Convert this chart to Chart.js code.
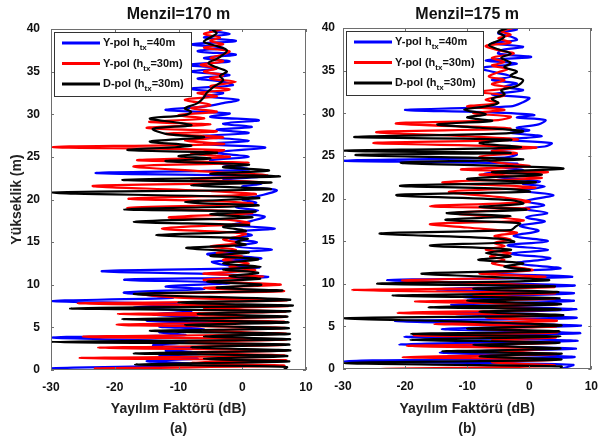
<!DOCTYPE html>
<html><head><meta charset="utf-8">
<script src="https://cdn.jsdelivr.net/npm/chart.js@4.4.0/dist/chart.umd.min.js"></script>
<style>
html,body{margin:0;padding:0;background:#fff;}
#wrap{position:relative;width:608px;height:443px;background:#fff;}
canvas{position:absolute;left:0;top:0;}
</style></head><body>
<div id="wrap"><canvas id="c1" width="608" height="443"></canvas><canvas id="c2" width="608" height="443"></canvas></div>
<script>
// ---------- data: [height (m), spreading factor (dB)] ----------
const seriesNames = ['Y-pol h_tx=40m', 'Y-pol (h_tx=30m)', 'D-pol (h_tx=30m)'];
const xTicks = [-30, -20, -10, 0, 10];
const yTicks = [0, 5, 10, 15, 20, 25, 30, 35, 40];
const panelTitles = ['Menzil=170 m', 'Menzil=175 m'];
const panelLabels = ['(a)', '(b)'];

const blue170 = [[0,-30],[0.2,-30],[0.45,-14],[0.75,-8],[1.05,-15],[1.35,-7],[1.65,-13],[1.95,-5.5],[2.25,-12],[2.55,-7],[2.9,-14],[3.3,-8],[3.8,-30],[4.1,-9],[4.45,-13],[4.8,-6],[5.1,-13],[5.45,-3],[5.8,-15],[6.15,-7],[6.5,-14],[6.9,-8],[7.3,-17],[7.7,-10],[8.1,-30],[8.45,-11],[8.8,-15],[9.1,-18.5],[9.5,-6],[9.8,-12],[10.2,-2],[10.6,-18.5],[10.9,3.9],[11.25,-4],[11.6,-22],[12.0,2.5],[12.35,-3],[12.7,-4.7],[13.1,3],[13.6,-5.5],[14.1,4.6],[14.5,-1],[15.0,2.3],[15.4,-2],[15.8,1.5],[16.2,-1],[16.6,5.1],[17.0,-1.5],[17.5,1.5],[18.0,3.5],[18.4,-1],[18.7,2.5],[19.1,-1],[19.6,2.2],[20.0,0],[20.4,2.5],[21.1,5.4],[21.5,0],[21.9,3],[22.3,-3],[22.7,2.9],[23.1,-23],[23.5,1],[24.0,-2],[24.6,-5],[25.0,1],[25.5,-4],[26.1,3.6],[26.5,-6],[26.9,1],[27.4,-6.7],[27.8,1],[28.2,-4],[28.5,1.5],[28.9,-3],[29.3,2.6],[29.7,-5],[30.1,-2],[30.5,-12],[30.9,-6],[31.3,-3],[31.7,-0.6],[32.1,-6],[32.5,-3],[33.0,-8],[33.4,-1.5],[33.8,-3],[34.2,-7],[34.6,-2],[35.0,-8],[35.4,-4],[35.8,-8.5],[36.2,-2],[36.6,-6],[37.0,-1],[37.4,-7],[37.8,-3],[38.2,-8],[38.6,-1],[39.0,-6],[39.4,-2],[39.8,-5],[40,-4]];

const red170 = [[0,-5],[0.2,-23],[0.5,6.5],[0.85,-8],[1.15,6.8],[1.4,-25.5],[1.7,6.5],[2.0,-7],[2.3,6.8],[2.6,-22.6],[2.95,6.6],[3.25,-9],[3.6,6.8],[3.9,-25],[4.25,6.7],[4.6,-6],[4.95,6.6],[5.3,-19.7],[5.65,6.5],[5.95,-8],[6.25,6.8],[6.55,-19.5],[6.85,6.7],[7.2,-6],[7.5,7],[7.8,-25.8],[8.15,6.8],[8.5,-10],[8.9,-15.5],[9.25,6.5],[9.6,-6],[10.0,6.0],[10.3,-2],[10.6,-6],[11.0,3.3],[11.3,-6.1],[11.7,2.0],[12.1,-2],[12.5,1.0],[12.9,-3],[13.3,0],[13.7,-4],[14.1,-1],[14.5,-5],[14.9,-0.5],[15.3,-3],[15.6,-1],[16.0,0.5],[16.6,-12.6],[17.2,1.0],[17.6,-2],[17.9,-11.5],[18.4,1.5],[18.7,-3],[19.0,-18],[19.5,1.5],[19.8,-4],[20.1,-17.8],[20.6,2.0],[21.0,-5],[21.6,-23.4],[22.0,3.0],[22.4,-8],[22.8,4.0],[23.3,-6],[23.9,-17],[24.3,1.0],[24.6,-16.5],[25.0,-2],[25.4,-8],[25.8,-3],[26.15,-30],[26.5,-3],[26.9,-9],[27.3,-3],[27.7,-12],[28.0,-4],[28.4,-15],[28.8,-5],[29.1,-14.6],[29.5,-6],[29.9,-10],[30.3,-4],[30.7,-8],[31.1,-5],[31.7,-9],[32.1,-4],[32.5,-7],[32.9,-2],[33.3,-5],[33.8,-1],[34.2,-5],[34.6,-3],[35.0,-6],[35.4,-4],[35.8,-6.5],[36.2,-3],[36.6,-5],[37.0,-3],[37.4,-2],[37.8,-6],[38.2,-3],[38.6,-5],[39.0,-3.5],[39.4,-6],[39.8,-4],[40,-3]];

const black170 = [[0,6.5],[0.35,7.0],[0.67,-16.8],[1.0,7.3],[1.3,-6],[1.65,7.0],[1.96,-17],[2.3,7.5],[2.65,-8],[3.0,7.2],[3.3,-30],[3.6,7.3],[3.95,-6],[4.25,7.4],[4.57,-14.5],[4.9,7.3],[5.25,-9],[5.6,7.2],[5.94,-18.8],[6.25,7.0],[6.6,-7],[6.9,7.4],[7.23,-27],[7.55,7.8],[7.9,-10],[8.25,7.5],[8.9,-17],[9.3,6.2],[9.65,-4],[10.0,3.0],[10.35,-5.5],[10.7,2.8],[11.0,-2],[11.4,2.5],[11.8,-3],[12.1,2.9],[12.5,-3],[13.0,2.5],[13.4,-5],[13.8,1.0],[14.3,-8.8],[14.7,0.5],[15.0,-1],[15.4,0.8],[15.8,-13.5],[16.3,0.5],[16.8,-3],[17.0,1.0],[17.4,-17],[17.9,1.5],[18.3,-5],[18.6,2.0],[18.85,-18.5],[19.3,2.5],[19.7,-9],[20.2,2.5],[20.8,-30],[21.2,4.3],[21.7,-8],[22.0,4.5],[22.3,-18.8],[22.7,5.8],[23.0,-5],[23.4,4.2],[23.8,-3],[24.1,1.0],[24.5,-12],[24.8,-5],[25.1,-10],[25.5,-4],[25.8,-18],[26.3,-8],[26.8,-14.5],[27.3,-6],[27.7,-12],[28.3,-14],[28.7,-8],[29.0,-10],[29.5,-14.5],[29.9,-9],[30.3,-8],[30.7,-9],[31.3,-7],[32.0,-6],[32.5,-5.6],[33.2,-4.5],[34.0,-3],[34.5,-3.5],[35.0,-2.4],[35.5,-4],[36.0,-5.3],[36.5,-4],[37.0,-3],[37.5,-2.4],[38.0,-4],[38.5,-6],[39.0,-5],[39.5,-4],[39.9,-4.6],[40,-3.5]];

const blue175 = [[0,5],[0.5,7.0],[0.9,-30],[1.4,7.2],[1.95,-14.4],[2.4,7.5],[2.9,-20.9],[3.3,7.8],[3.8,-20.1],[4.2,8.2],[4.7,-14.1],[5.1,8.3],[5.6,-21.6],[6.0,7.6],[6.5,-13],[7.0,7.6],[7.5,-12.6],[8.0,7.2],[8.45,-11],[8.9,7.2],[9.35,-15],[9.8,7.3],[10.4,-22.9],[10.8,6.8],[11.3,-8],[11.8,5.0],[12.4,-2],[13.0,3.4],[13.5,-3],[14.0,3.0],[14.5,-3.5],[15.0,3.0],[15.6,-2.5],[16.2,1.5],[16.8,-1.5],[17.3,2.5],[17.8,-0.5],[18.3,2.9],[18.8,-1],[19.2,2.4],[19.7,-0.5],[20.4,3.9],[20.9,-1],[21.4,2.5],[21.7,-1],[22.0,1.7],[22.5,-5],[22.9,-7.2],[23.3,-1],[23.7,-4.5],[24.1,-2],[24.45,-30],[24.8,-4],[25.2,-2],[25.6,-6],[26.1,2.5],[26.5,3.6],[26.9,-4],[27.3,2.0],[27.7,-3],[28.0,0],[28.3,-2],[28.7,1.5],[29.2,2.6],[29.5,-2],[29.8,0.8],[30.1,-6],[30.4,-20],[30.8,-3],[31.3,-1],[31.8,0],[32.2,-6],[32.7,-1],[33.1,-4],[33.5,-2],[33.9,-6],[34.3,-3],[34.8,-5.5],[35.3,-7.9],[35.8,-2],[36.2,-7],[36.6,0.3],[37.0,-5],[37.4,-4.5],[37.8,-1],[38.2,-6],[38.6,-2],[39.0,-3],[39.4,-5],[39.8,-2],[40,-4]];

const red175 = [[0,-24],[0.4,4],[0.8,-6],[1.1,4.2],[1.4,-20.4],[1.75,4.3],[2.1,-5],[2.4,4.2],[2.7,-19.7],[3.05,4.0],[3.4,-6],[3.7,4.2],[3.95,-18.6],[4.3,4.5],[4.7,-8],[5.0,4.3],[5.3,-15.3],[5.65,4.4],[6.0,-7],[6.3,4.2],[6.6,-21.2],[6.95,4.3],[7.3,-10],[7.6,4.5],[7.9,-18.4],[8.25,4.1],[8.6,-9],[8.9,4.0],[9.25,-28.5],[9.6,3.8],[10.0,-5],[10.4,-20.4],[10.8,2.5],[11.2,-8],[11.6,0.5],[12.0,-3],[12.4,-6],[12.8,-4],[13.2,-6.3],[13.6,-3],[14.0,-7],[14.4,-4],[14.8,-5.6],[15.2,-3],[15.6,-5.6],[16.0,-2],[16.6,-10],[17.0,-15.9],[17.4,-1],[17.8,-5],[18.3,-12],[18.8,0],[19.1,-16],[19.6,0],[20.1,-4],[20.8,-12.9],[21.3,1],[21.9,-14],[22.4,2],[22.8,-8],[23.1,3],[23.4,-11],[23.8,0],[24.2,-5],[24.9,-8],[25.3,-2],[25.6,-6],[26.0,1],[26.5,-25.1],[26.9,-2],[27.3,-10],[27.8,-24.6],[28.2,-3],[28.8,-21.5],[29.2,-5],[29.6,-3],[30.0,-9],[30.4,-4],[30.8,-10],[31.2,-5],[31.6,-7],[32.1,-4],[32.5,-8],[33.0,-3],[33.4,-6],[33.9,-4],[34.3,-6.5],[34.8,-5],[35.2,-3.5],[35.6,-6],[36.0,-4],[36.5,-6],[37.0,-2.5],[37.4,-5],[37.9,-7],[38.3,-3],[38.8,-5],[39.2,-3],[39.6,-4.5],[40,-2.5]];

const black175 = [[0,5],[0.3,5.2],[0.7,-30],[1.1,5.0],[1.5,-8],[1.8,5.2],[2.05,-14],[2.4,5.0],[2.8,-9],[3.1,4.8],[3.45,-19.1],[3.8,5.0],[4.1,-19],[4.4,4.8],[4.75,-10],[5.1,5.2],[5.5,-8],[5.95,-30],[6.3,5.3],[6.7,-8],[7.0,5.0],[7.25,-16.2],[7.6,5.1],[8.0,-10],[8.3,4.8],[8.6,-22],[9.0,4.6],[9.4,-9],[9.7,4.0],[10.0,-24.5],[10.4,3.0],[10.8,-6],[11.2,-17.3],[11.6,0],[12.0,-4],[12.4,-1],[12.8,-8.2],[13.2,-3],[13.6,-7],[14.0,-3],[14.5,-16],[14.9,-2.5],[15.3,-5],[15.9,-24.1],[16.3,-3],[16.7,-2.2],[17.1,-1.5],[17.5,-13.5],[17.9,-3],[18.3,-13.3],[18.7,-0.5],[19.0,-8],[19.4,-1],[19.8,-3],[20.4,-21.4],[20.8,0],[21.1,-3],[21.5,-20.8],[21.9,1],[22.3,-10],[22.8,2],[23.1,-6],[23.5,5.5],[23.8,-3],[24.2,-20.7],[24.6,-1],[25.1,-28],[25.35,-3],[25.6,-30],[26.0,-1.5],[26.5,-8],[26.9,-3],[27.2,-28.2],[27.6,-5],[27.9,-1],[28.3,-8],[28.7,-14.8],[29.1,-6],[29.5,-10],[29.9,-7],[30.4,-10.5],[30.8,-7],[31.2,-5],[31.7,-6],[32.2,-4],[32.7,-4.5],[33.2,-2],[33.9,-1],[34.4,-3],[34.9,-2],[35.4,-4],[35.9,-3],[36.5,-4.5],[37.0,-3],[37.5,-5],[38.0,-6.5],[38.5,-5],[39.0,-4],[39.5,-5],[40,-3.5]];

// ---------- styling ----------
const FONT = '"Liberation Sans", Arial, sans-serif';
const COLORS = ['#0000ff', '#ff0000', '#000000'];

function toXY(arr) { return arr.map(p => ({ x: p[1], y: p[0] })); }

const decorPlugin = {
  id: 'decor',
  afterDraw(chart) {
    const o = chart.options.plugins.decor;
    const ctx = chart.ctx, a = chart.chartArea;
    const xs = chart.scales.x, ys = chart.scales.y;
    ctx.save();
    // box
    ctx.strokeStyle = '#6e6e6e';
    ctx.lineWidth = 1;
    ctx.strokeRect(Math.round(a.left) + 0.5, Math.round(a.top) + 0.5, Math.round(a.right - a.left) - 1, Math.round(a.bottom - a.top) - 1);
    // inward tick marks
    ctx.beginPath();
    xTicks.forEach(v => {
      const px = Math.round(xs.getPixelForValue(v)) + 0.5;
      ctx.moveTo(px, a.bottom); ctx.lineTo(px, a.bottom - 3);
      ctx.moveTo(px, a.top); ctx.lineTo(px, a.top + 3);
    });
    yTicks.forEach(v => {
      const py = Math.round(ys.getPixelForValue(v)) + 0.5;
      ctx.moveTo(a.left, py); ctx.lineTo(a.left + 3, py);
      ctx.moveTo(a.right, py); ctx.lineTo(a.right - 3, py);
    });
    ctx.stroke();
    // title
    ctx.fillStyle = '#111';
    ctx.font = 'bold 16px ' + FONT;
    ctx.textAlign = 'center';
    ctx.textBaseline = 'middle';
    ctx.fillText(o.title, (a.left + a.right) / 2, 15);
    // legend box
    const lx = a.left + 3, ly = a.top + 3, lw = 137, lh = 64;
    ctx.fillStyle = '#fff';
    ctx.fillRect(lx, ly, lw, lh);
    ctx.strokeStyle = '#333';
    ctx.strokeRect(lx + 0.5, ly + 0.5, lw, lh);
    const rows = [
      { pre: 'Y-pol h', sub: 'tx', post: '=40m' },
      { pre: 'Y-pol (h', sub: 'tx', post: '=30m)' },
      { pre: 'D-pol (h', sub: 'tx', post: '=30m)' }
    ];
    rows.forEach((r, i) => {
      const y = ly + 11 + i * 20.5;
      ctx.strokeStyle = COLORS[i];
      ctx.lineWidth = 2.8;
      ctx.beginPath();
      ctx.moveTo(lx + 8, y); ctx.lineTo(lx + 46, y);
      ctx.stroke();
      ctx.fillStyle = '#111';
      ctx.textAlign = 'left';
      ctx.textBaseline = 'middle';
      let tx = lx + 49;
      ctx.font = 'bold 11px ' + FONT;
      ctx.fillText(r.pre, tx, y);
      tx += ctx.measureText(r.pre).width;
      ctx.font = 'bold 8px ' + FONT;
      ctx.fillText(r.sub, tx, y + 5);
      tx += ctx.measureText(r.sub).width;
      ctx.font = 'bold 11px ' + FONT;
      ctx.fillText(r.post, tx, y);
    });
    ctx.restore();
  }
};

function makePanel(id, series, cfg) {
  const datasets = series.map((s, i) => ({
    label: seriesNames[i],
    data: toXY(s),
    borderColor: COLORS[i],
    backgroundColor: COLORS[i],
    borderWidth: 2.2,
    pointRadius: 0,
    tension: 0.35,
    fill: false,
    order: 3 - i,
    borderJoinStyle: 'round'
  }));
  return new Chart(document.getElementById(id), {
    type: 'line',
    data: { datasets },
    plugins: [decorPlugin],
    options: {
      indexAxis: 'y',
      responsive: false,
      animation: false,
      devicePixelRatio: 1,
      layout: { padding: { left: cfg.padLeft, right: cfg.padRight, top: cfg.padTop, bottom: 0 } },
      plugins: {
        legend: { display: false },
        tooltip: { enabled: false },
        title: { display: false },
        decor: { title: cfg.title }
      },
      scales: {
        x: {
          type: 'linear', position: 'bottom', min: -30, max: 10,
          ticks: { stepSize: 10, color: '#111', font: { family: FONT, size: 12, weight: 'bold' }, padding: 10, maxRotation: 0, autoSkip: false },
          grid: { display: false, drawTicks: false },
          border: { display: false },
          title: { display: true, text: ['Yayılım Faktörü (dB)', cfg.label], color: '#222', font: { family: FONT, size: 14, weight: 'bold', lineHeight: 1.43 }, padding: { top: 0, bottom: 4 } },
          afterFit: s => { s.height = cfg.xHeight; }
        },
        y: {
          type: 'linear', position: 'left', min: 0, max: 40,
          ticks: { stepSize: 5, color: '#111', font: { family: FONT, size: 12, weight: 'bold' }, padding: cfg.yTickPad },
          grid: { display: false, drawTicks: false },
          border: { display: false },
          title: { display: cfg.showYTitle, text: 'Yükseklik (m)', color: '#222', font: { family: FONT, size: 14, weight: 'bold' }, padding: { top: 9, bottom: 0 } },
          afterFit: s => { s.width = cfg.yWidth; }
        }
      }
    }
  });
}

makePanel('c1', [blue170, red170, black170], {
  padLeft: 0, padRight: 302, padTop: 29, xHeight: 73, yWidth: 51, yTickPad: 11,
  showYTitle: true, title: panelTitles[0], label: panelLabels[0]
});
makePanel('c2', [blue175, red175, black175], {
  padLeft: 300, padRight: 7, padTop: 28, xHeight: 74, yWidth: 43, yTickPad: 8,
  showYTitle: false, title: panelTitles[1], label: panelLabels[1]
});
</script>
</body></html>
